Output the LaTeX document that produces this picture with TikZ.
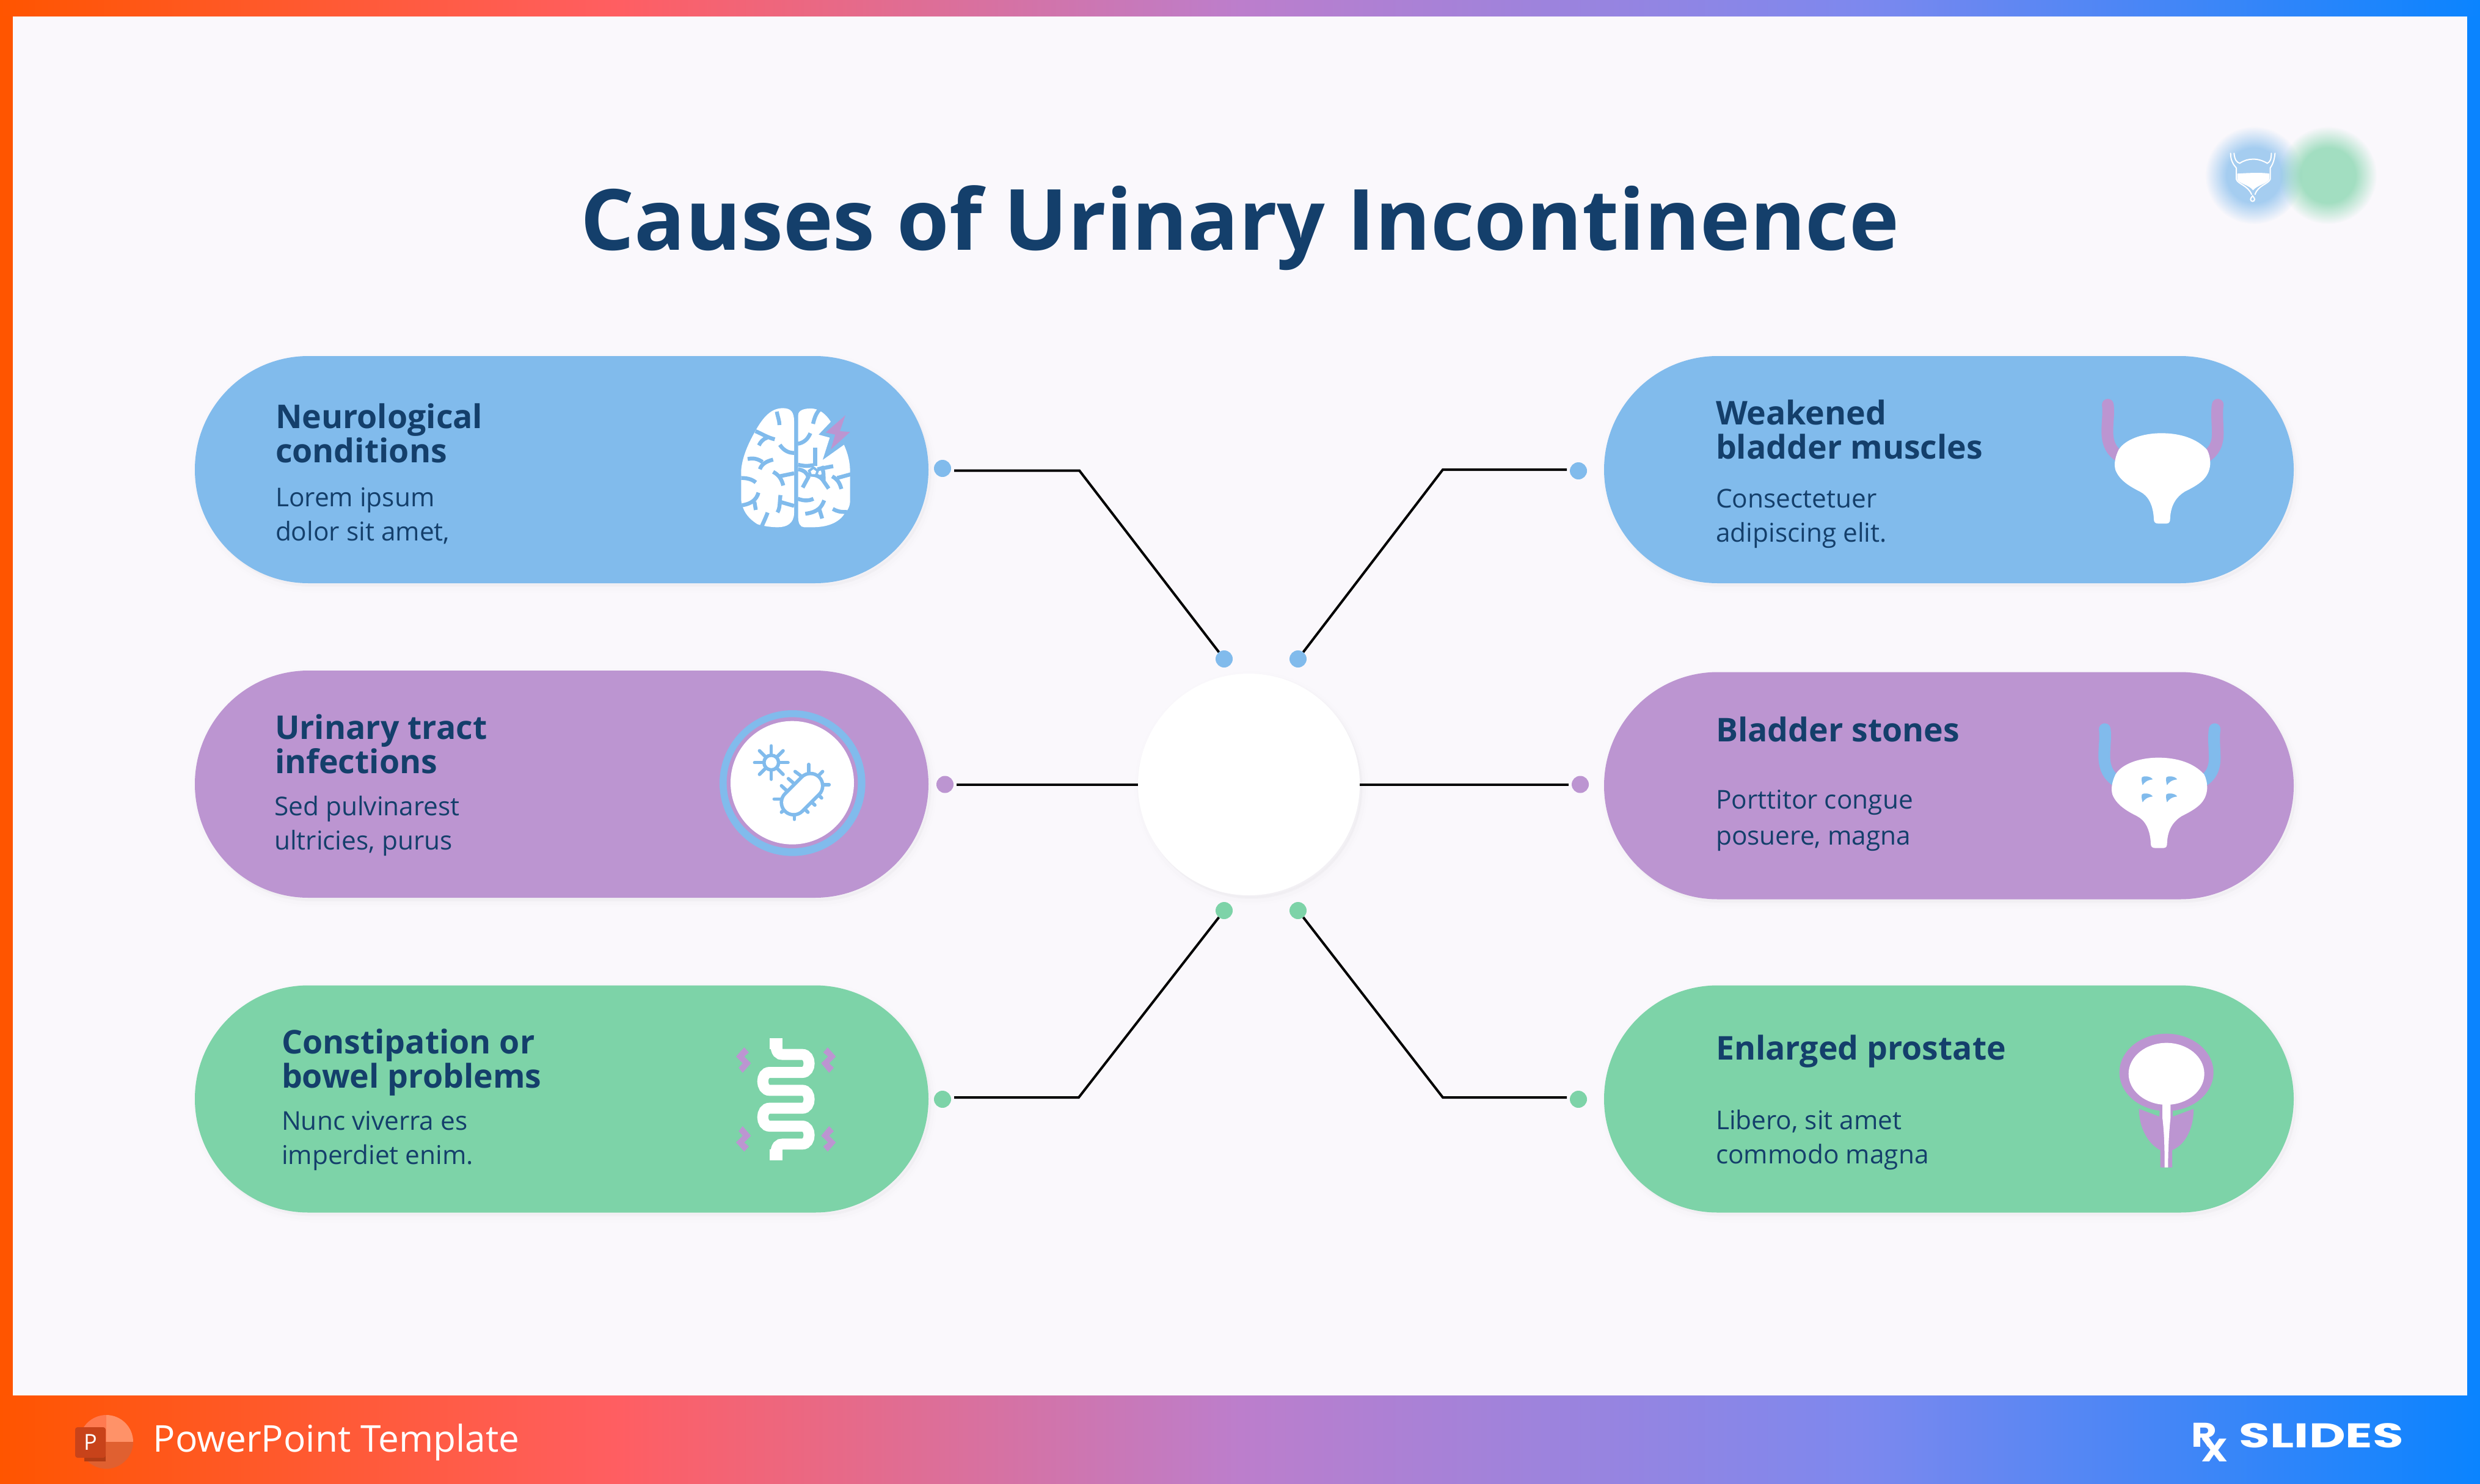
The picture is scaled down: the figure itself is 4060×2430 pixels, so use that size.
\documentclass[tikz,border=0pt]{standalone}
\usepackage{fontspec}
\setmainfont{Open Sans}
\newfontfamily\logofont{Poppins}
\usetikzlibrary{shadows,fadings,shapes.geometric}
\definecolor{bluec}{HTML}{81BBEC}
\definecolor{purplec}{HTML}{BC95D1}
\definecolor{greenc}{HTML}{7DD3A8}
\definecolor{inkc}{HTML}{143F6B}
\definecolor{panelc}{HTML}{FAF8FC}
\definecolor{orangec}{HTML}{FF5500}
\definecolor{azurec}{HTML}{0A84FF}
\definecolor{barb}{HTML}{FF5E62}
\definecolor{barc}{HTML}{BC7ECC}
\definecolor{bard}{HTML}{7D88EE}
\definecolor{pptA}{HTML}{FF7A50}
\definecolor{pptB}{HTML}{FF9268}
\definecolor{pptC}{HTML}{E06030}
\definecolor{pptD}{HTML}{B03C15}
\definecolor{pptE}{HTML}{C8431A}
\pgfdeclarehorizontalshading{barsh}{100bp}{color(0bp)=(orangec); color(25bp)=(orangec); color(37.5bp)=(barb); color(50bp)=(barc); color(62.5bp)=(bard); color(75bp)=(azurec); color(100bp)=(azurec)}
\pgfdeclareradialshading{glowsh}{\pgfpointorigin}{color(0bp)=(pgftransparent!30); color(14bp)=(pgftransparent!30); color(25bp)=(pgftransparent!100); color(50bp)=(pgftransparent!100)}
\pgfdeclarefading{glowf}{\pgfuseshading{glowsh}}
\tikzset{
  softsh/.style={
    general shadow={fill=black,draw=black,line width=5pt,opacity=.004,shadow xshift=1pt,shadow yshift=-1.5pt},
    general shadow={fill=black,draw=black,line width=3pt,opacity=.006,shadow xshift=1pt,shadow yshift=-1.5pt},
    general shadow={fill=black,draw=black,line width=1pt,opacity=.008,shadow xshift=1pt,shadow yshift=-1pt}},
  pillbase/.style={rectangle,rounded corners=46.5pt,minimum height=93pt,inner sep=0pt,outer sep=0pt,softsh},
  pillL/.style={pillbase,minimum width=300.25pt},
  pillR/.style={pillbase,minimum width=282.25pt},
  dotc/.style={circle,minimum size=7pt,inner sep=0pt,outer sep=0pt},
  conn/.style={draw=black,line width=1pt},
  head/.style={anchor=base west,align=left,inner sep=0pt,outer sep=0pt,text=inkc,font=\fontsize{13.4pt}{14pt}\selectfont\bfseries},
  body/.style={anchor=base west,align=left,inner sep=0pt,outer sep=0pt,text=inkc,font=\fontsize{10.6pt}{14pt}\selectfont},
  zu/.style 2 args={shift={(#1,#2)},scale=1/3},
  groove/.style={draw=bluec,line width=1.6pt},
  germ/.style={draw=bluec,line width=1.4pt,line cap=round},
  thinw/.style={draw=white,line width=.5pt,line cap=round}
}
\newcommand{\bladdershape}[1]{%
  \draw[#1,line width=4.8pt,line cap=round] (152,128) .. controls (158,170) and (148,220) .. (150,270) .. controls (152,320) and (170,360) .. (215,385);
  \draw[#1,line width=4.8pt,line cap=round] (692,128) .. controls (685,170) and (692,220) .. (692,270) .. controls (692,320) and (675,360) .. (630,385);
  \fill[white] (415,268) .. controls (320,268) and (235,300) .. (205,350) .. controls (190,380) and (180,420) .. (190,450) .. controls (210,500) and (260,530) .. (310,555) .. controls (350,575) and (375,620) .. (378,690) .. controls (378,705) and (385,712) .. (400,712) -- (440,712) .. controls (455,712) and (458,700) .. (458,690) .. controls (460,620) and (490,580) .. (530,555) .. controls (600,520) and (650,490) .. (655,420) .. controls (655,390) and (650,370) .. (640,350) .. controls (590,295) and (510,268) .. (415,268) -- cycle;
}
\newcommand{\stoneat}[2]{\fill[bluec,shift={(#1,#2)}] (-26,-14) .. controls (-12,-26) and (24,-16) .. (27,-4) .. controls (0,-2) and (-15,12) .. (-22,24) .. controls (-26,12) and (-28,0) .. (-26,-14) -- cycle;}
\begin{document}
\begin{tikzpicture}[x=0.25pt,y=-0.25pt]
\useasboundingbox (0,0) rectangle (4060,2430);
% frame
\fill[panelc] (0,0) rectangle (4060,2430);
\fill[orangec] (0,0) rectangle (21,2430);
\fill[azurec] (4039,0) rectangle (4060,2430);
\shade[shading=barsh] (0,0) rectangle (4060,26);
\shade[shading=barsh] (0,2285) rectangle (4060,2430);
% title
\node[inner sep=0pt,anchor=base,text=inkc,font=\fontsize{34.6pt}{40pt}\selectfont\bfseries] (title) at (2030,409) {Causes of Urinary Incontinence};
% glows
\fill[bluec,path fading=glowf] (3690,287) circle[radius=80];
\fill[greenc,path fading=glowf] (3811,287) circle[radius=80];
\begin{scope}[zu={3580}{190}]
  \fill[white] (248,283) .. controls (320,278) and (380,278) .. (405,283) -- (405,310) .. controls (400,330) and (345,340) .. (325,365) .. controls (310,340) and (250,330) .. (248,310) -- cycle;
  \draw[thinw] (215,183) .. controls (215,220) and (230,240) .. (243,255) -- (243,310) .. controls (250,335) and (300,340) .. (318,385);
  \draw[thinw] (232,183) .. controls (235,215) and (245,228) .. (260,232) .. controls (300,205) and (350,205) .. (395,232) .. controls (408,226) and (415,215) .. (415,183);
  \draw[thinw] (433,183) .. controls (430,220) and (420,240) .. (410,255) -- (410,310) .. controls (400,335) and (350,340) .. (335,385);
  \draw[thinw] (323,392) .. controls (315,402) and (312,408) .. (313,410) .. controls (315,422) and (331,422) .. (333,410) .. controls (334,408) and (331,402) .. (323,392) -- cycle;
\end{scope}
% pills
\node[pillL,fill=bluec] (pillA) at (919.5,769) {};
\node[pillL,fill=purplec] (pillB) at (919.5,1284) {};
\node[pillL,fill=greenc] (pillC) at (919.5,1799.5) {};
\node[pillR,fill=bluec] (pillD) at (3190.5,769) {};
\node[pillR,fill=purplec] (pillE) at (3190.5,1286.5) {};
\node[pillR,fill=greenc] (pillF) at (3190.5,1799.5) {};
% centre
\node[circle,fill=white,minimum size=90.75pt,inner sep=0pt,outer sep=0pt,softsh] (hub) at (2044.5,1284.5) {};
% dots
\node[dotc,fill=bluec] (dA) at (1543,767) {};
\node[dotc,fill=purplec] (dB) at (1547,1284.5) {};
\node[dotc,fill=greenc] (dC) at (1543,1800) {};
\node[dotc,fill=bluec] (dD) at (2584,771) {};
\node[dotc,fill=purplec] (dE) at (2587,1284.5) {};
\node[dotc,fill=greenc] (dF) at (2584,1800) {};
\node[dotc,fill=bluec] (hA) at (2004,1079) {};
\node[dotc,fill=bluec] (hD) at (2125,1079) {};
\node[dotc,fill=greenc] (hC) at (2004,1491) {};
\node[dotc,fill=greenc] (hF) at (2125,1491) {};
\coordinate (eA) at (1767,770.5);
\coordinate (eD) at (2362,769);
\coordinate (eC) at (1766,1797);
\coordinate (eF) at (2362,1797);
\draw[conn] ([shift={(5,3.5)}]dA.east) -- (eA) -- (hA);
\draw[conn] ([shift={(-5,-2)}]dD.west) -- (eD) -- (hD);
\draw[conn] ([shift={(5,-3)}]dC.east) -- (eC) -- (hC);
\draw[conn] ([shift={(-5,-3)}]dF.west) -- (eF) -- (hF);
\draw[conn] ([shift={(5,0)}]dB.east) -- (hub.west);
\draw[conn] ([shift={(-5,0)}]dE.west) -- (hub.east);
% text left (anchor is the last line's baseline)
\node[head] (tA) at (451,757) {Neurological\\conditions};
\node[body] (bA) at (451,885) {Lorem ipsum\\dolor sit amet,};
\node[head] (tB) at (450,1266) {Urinary tract\\infections};
\node[body] (bB) at (449,1391) {Sed pulvinarest\\ultricies, purus};
\node[head] (tC) at (461,1781) {Constipation or\\bowel problems};
\node[body] (bC) at (461,1906) {Nunc viverra es\\imperdiet enim.};
% text right
\node[head] (tD) at (2809,751) {Weakened\\bladder muscles};
\node[body] (bD) at (2809,887) {Consectetuer\\adipiscing elit.};
\node[head] (tE) at (2809,1214) {Bladder stones};
\node[body,font=\fontsize{10.6pt}{14.7pt}\selectfont] (bE) at (2809,1383) {Porttitor congue\\posuere, magna};
\node[head] (tF) at (2809,1735) {Enlarged prostate};
\node[body] (bF) at (2809,1905) {Libero, sit amet\\commodo magna};
% brain
\begin{scope}[zu={1100}{600}]
  \fill[white] (545,205) .. controls (585,205) and (600,225) .. (600,270) -- (600,720) .. controls (600,770) and (565,790) .. (520,790) .. controls (490,790) and (450,785) .. (420,775) .. controls (380,750) and (355,720) .. (345,680) .. controls (340,665) and (340,660) .. (340,640) -- (340,510) .. controls (345,450) and (370,390) .. (400,335) .. controls (440,260) and (480,205) .. (545,205) -- cycle;
  \fill[white] (620,240) .. controls (620,215) and (650,205) .. (690,207) .. controls (740,212) and (770,255) .. (780,272) -- (720,335) -- (775,350) -- (740,460) -- (845,385) .. controls (865,430) and (875,470) .. (875,520) -- (875,660) .. controls (875,690) and (860,710) .. (850,720) .. controls (820,770) and (760,790) .. (690,790) -- (650,790) .. controls (630,790) and (620,770) .. (620,740) -- cycle;
  \fill[purplec] (852,240) -- (755,325) -- (802,335) -- (780,408) -- (875,322) -- (825,318) -- cycle;
  \draw[groove] (515,222) .. controls (520,250) and (528,265) .. (528,288);
  \draw[groove] (410,318) .. controls (440,330) and (470,350) .. (505,358);
  \draw[groove] (468,350) .. controls (450,355) and (435,370) .. (427,388);
  \draw[groove] (530,385) .. controls (550,415) and (575,425) .. (600,425);
  \draw[groove] (372,455) .. controls (400,448) and (425,455) .. (445,470);
  \draw[groove] (497,458) .. controls (465,465) and (440,480) .. (432,505);
  \draw[groove] (497,518) .. controls (530,535) and (540,560) .. (547,585);
  \draw[groove] (527,540) -- (600,525);
  \draw[groove] (340,548) .. controls (370,548) and (395,555) .. (412,570);
  \draw[groove] (425,620) .. controls (415,655) and (390,675) .. (345,682);
  \draw[groove] (405,665) -- (412,705);
  \draw[groove] (533,632) .. controls (528,670) and (532,695) .. (518,717);
  \draw[groove] (530,665) -- (600,685);
  \draw[groove] (470,718) .. controls (460,745) and (450,765) .. (440,788);
  \draw[groove] (725,212) .. controls (705,235) and (700,255) .. (693,282);
  \draw[groove] (618,380) .. controls (650,375) and (668,355) .. (680,328);
  \draw[groove] (703,398) -- (703,490);
  \draw[groove] (620,483) .. controls (650,490) and (665,490) .. (695,485);
  \draw[groove] (792,490) -- (715,505);
  \draw[groove] (620,505) .. controls (650,510) and (665,525) .. (670,545);
  \draw[groove] (672,540) -- (642,595);
  \draw[groove] (725,535) -- (770,600);
  \draw[groove] (668,532) .. controls (700,530) and (720,535) .. (745,560);
  \draw[groove] (735,490) .. controls (745,510) and (745,530) .. (745,560);
  \draw[bluec,line width=1pt,fill=white] (695,497) -- (716,513) -- (708,535) -- (682,535) -- (674,513) -- cycle;
  \draw[groove] (787,540) .. controls (815,555) and (825,575) .. (832,602);
  \draw[groove] (812,548) -- (878,530);
  \draw[groove] (618,650) .. controls (650,662) and (675,660) .. (695,650);
  \draw[groove] (748,658) .. controls (735,690) and (720,715) .. (655,724);
  \draw[groove] (725,705) -- (738,747);
  \draw[groove] (790,700) .. controls (810,712) and (830,716) .. (860,715);
\end{scope}
% germ
\begin{scope}[zu={1120}{1130}]
  \fill[bluec] (532,457) circle[radius=358];
  \fill[purplec] (531,455) circle[radius=322];
  \fill[white] (531,455) circle[radius=303];
  \draw[germ] (428,356) circle[radius=36];
  \foreach \a in {0,45,...,315} {\draw[germ] ({428+42*cos(\a)},{356+42*sin(\a)}) -- ({428+82*cos(\a)},{356+82*sin(\a)});}
  \draw[germ] (612,365) -- (612,420); \draw[germ] (680,400) -- (650,430); \draw[germ] (712,465) -- (665,465);
  \draw[germ] (545,400) -- (572,420); \draw[germ] (512,435) -- (535,455); \draw[germ] (478,470) -- (510,500);
  \draw[germ] (442,535) -- (495,535); \draw[germ] (478,600) -- (510,570); \draw[germ] (541,635) -- (541,585);
  \draw[germ] (608,600) -- (580,572); \draw[germ] (642,565) -- (615,540); \draw[germ] (675,530) -- (650,505);
  \draw[bluec,line width=11.5pt,line cap=round] (538,552) -- (620,470);
  \draw[white,line width=8.6pt,line cap=round] (538,552) -- (620,470);
\end{scope}
% intestine
\begin{scope}[zu={1150}{1660}]
  \draw[white,line width=4.5pt] (361,150) .. controls (361,190) and (375,200) .. (395,200) -- (490,200) .. controls (535,200) and (535,288) .. (490,288) -- (330,288) .. controls (285,288) and (285,376) .. (330,376) -- (490,376) .. controls (535,376) and (535,464) .. (490,464) -- (330,464) .. controls (285,464) and (285,552) .. (330,552) -- (490,552) .. controls (535,552) and (535,640) .. (490,640) -- (395,640) .. controls (375,640) and (361,650) .. (361,690);
  \fill[white] (330,120) rectangle (393,175);
  \fill[white] (330,665) rectangle (393,720);
  \fill[purplec] (205,165) -- (228,190) -- (205,210) -- (238,243) -- (197,290) -- (178,265) -- (198,243) -- (165,210) -- cycle;
  \fill[purplec] (615,165) -- (655,210) -- (622,243) -- (645,265) -- (622,290) -- (583,243) -- (617,210) -- (593,190) -- cycle;
  \fill[purplec] (205,677) -- (228,652) -- (205,632) -- (238,599) -- (197,552) -- (178,577) -- (198,599) -- (165,632) -- cycle;
  \fill[purplec] (615,677) -- (655,632) -- (622,599) -- (645,577) -- (622,552) -- (583,599) -- (617,632) -- (593,652) -- cycle;
\end{scope}
% bladders
\begin{scope}[zu={3400}{620}]
  \bladdershape{purplec}
\end{scope}
\begin{scope}[zu={3395}{1151.3}]
  \bladdershape{bluec}
\end{scope}
\begin{scope}[zu={3400}{1160}]
  \stoneat{345}{353}\stoneat{465}{353}\stoneat{345}{437}\stoneat{465}{437}
\end{scope}
% prostate
\begin{scope}[zu={3420}{1670}]
  \fill[purplec] (380,258) ellipse[x radius=231,y radius=190];
  \fill[purplec] (245,437) -- (345,475) -- (347,430) -- (410,430) -- (412,475) -- (513,437) .. controls (515,520) and (480,610) .. (408,640) -- (408,725) -- (350,725) -- (350,640) .. controls (290,610) and (245,530) .. (245,437) -- cycle;
  \fill[white] (380,265) ellipse[x radius=186,y radius=152];
  \fill[white] (360,410) -- (400,410) -- (400,480) .. controls (392,560) and (388,640) .. (388,725) -- (371,725) .. controls (371,640) and (370,560) .. (360,480) -- cycle;
\end{scope}
% footer left
\fill[pptA] (174,2361) -- (174,2317) arc[start angle=-90,end angle=-180,x radius=44,y radius=44] -- cycle;
\fill[pptB] (174,2361) -- (174,2317) arc[start angle=-90,end angle=0,x radius=44,y radius=44] -- cycle;
\fill[pptC] (130,2361) arc[start angle=180,end angle=0,x radius=44,y radius=44] -- cycle;
\fill[pptD] (138,2350) rectangle (173,2393);
\fill[pptE,rounded corners=1pt] (123,2337) rectangle (173,2387);
\node[text=white,inner sep=0pt,font=\fontsize{9pt}{10pt}\selectfont] (pLetter) at (148,2362) {P};
\node[anchor=base west,inner sep=0pt,text=white,font=\fontsize{15.1pt}{18pt}\selectfont] (ftxt) at (250,2377) {PowerPoint Template};
% footer logo
\node[anchor=base west,inner sep=0pt,text=white,font=\logofont\bfseries\fontsize{14pt}{16pt}\selectfont] (logoR) at (3587,2369) {\scalebox{1.15}[1]{R}\kern-6.5pt\raisebox{-6pt}{\scalebox{1.1}[.95]{X}}};
\node[anchor=base west,inner sep=0pt,text=white,font=\logofont\bfseries\fontsize{14pt}{16pt}\selectfont] (logoS) at (3665,2370) {\scalebox{1.47}[1]{SLIDES}};
\end{tikzpicture}
\end{document}
